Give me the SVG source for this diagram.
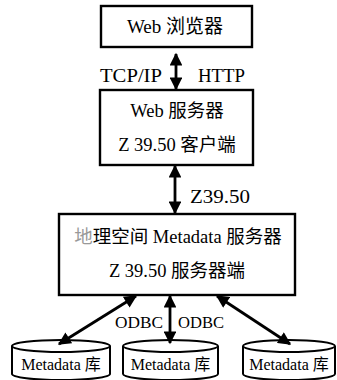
<svg xmlns="http://www.w3.org/2000/svg" width="337" height="380" viewBox="0 0 337 380">
<style>
.box{fill:#fff;stroke:#000;stroke-width:2.4}
.cyl{fill:#fff;stroke:#000;stroke-width:2}
.t{font-family:"Liberation Serif","Noto Sans CJK SC",serif;fill:#000;text-anchor:middle}
.lbl{font-family:"Liberation Serif",serif;fill:#000}
.ln{stroke:#000;stroke-width:2.8;fill:none}
</style>
<defs>
<marker id="ah" viewBox="0 0 10 10" refX="9" refY="5" markerWidth="4.8" markerHeight="4.6" orient="auto-start-reverse" markerUnits="strokeWidth">
<path d="M0,0 L10,5 L0,10 z" fill="#000"/>
</marker>
</defs>
<rect width="337" height="380" fill="#fff"/>
<g id="browser">
<rect class="box" x="101" y="6" width="151" height="41"/>
<text class="t" x="175" y="33" font-size="19">Web 浏览器</text>
</g>
<g id="webserver">
<rect class="box" x="100" y="90" width="153" height="75"/>
<text class="t" x="177" y="117" font-size="18.5">Web 服务器</text>
<text class="t" x="177" y="151" font-size="18.5">Z 39.50 客户端</text>
</g>
<g id="metaserver">
<rect class="box" x="59" y="214" width="236" height="81"/>
<text class="t" x="178" y="243" font-size="18.5"><tspan fill="#999">地</tspan>理空间 Metadata 服务器</text>
<text class="t" x="177" y="277" font-size="18.5">Z 39.50 服务器端</text>
</g>
<g id="db1">
<path class="cyl" d="M12,346 L12,374 A49,6 0 0 0 110,374 L110,346"/>
<ellipse class="cyl" cx="61" cy="346" rx="49" ry="6"/>
<text class="t" x="61" y="370" font-size="16">Metadata 库</text>
</g>
<g id="db2">
<path class="cyl" d="M123,346 L123,374 A47.5,6 0 0 0 218,374 L218,346"/>
<ellipse class="cyl" cx="170.5" cy="346" rx="47.5" ry="6"/>
<text class="t" x="170.5" y="370" font-size="16">Metadata 库</text>
</g>
<g id="db3">
<path class="cyl" d="M243,346 L243,374 A46,6 0 0 0 335,374 L335,346"/>
<ellipse class="cyl" cx="289" cy="346" rx="46" ry="6"/>
<text class="t" x="289" y="370" font-size="16">Metadata 库</text>
</g>
<g id="connectors">
<line class="ln" x1="176" y1="54" x2="176" y2="89" marker-start="url(#ah)" marker-end="url(#ah)"/>
<line class="ln" x1="175" y1="166" x2="175" y2="213" marker-start="url(#ah)" marker-end="url(#ah)"/>
<line class="ln" x1="136" y1="296" x2="59" y2="344" marker-start="url(#ah)" marker-end="url(#ah)"/>
<line class="ln" x1="170" y1="296" x2="170" y2="343" marker-start="url(#ah)" marker-end="url(#ah)"/>
<line class="ln" x1="217" y1="296" x2="290" y2="344" marker-start="url(#ah)" marker-end="url(#ah)"/>
<text class="lbl" x="100" y="82" font-size="18.5" textLength="62" lengthAdjust="spacingAndGlyphs">TCP/IP</text>
<text class="lbl" x="198" y="82" font-size="18.5" textLength="47" lengthAdjust="spacingAndGlyphs">HTTP</text>
<text class="lbl" x="190" y="203" font-size="18.5" textLength="60" lengthAdjust="spacingAndGlyphs">Z39.50</text>
<text class="lbl" x="115" y="328" font-size="16.5" textLength="48" lengthAdjust="spacingAndGlyphs">ODBC</text>
<text class="lbl" x="178" y="328" font-size="16.5" textLength="46" lengthAdjust="spacingAndGlyphs">ODBC</text>
</g>
</svg>
